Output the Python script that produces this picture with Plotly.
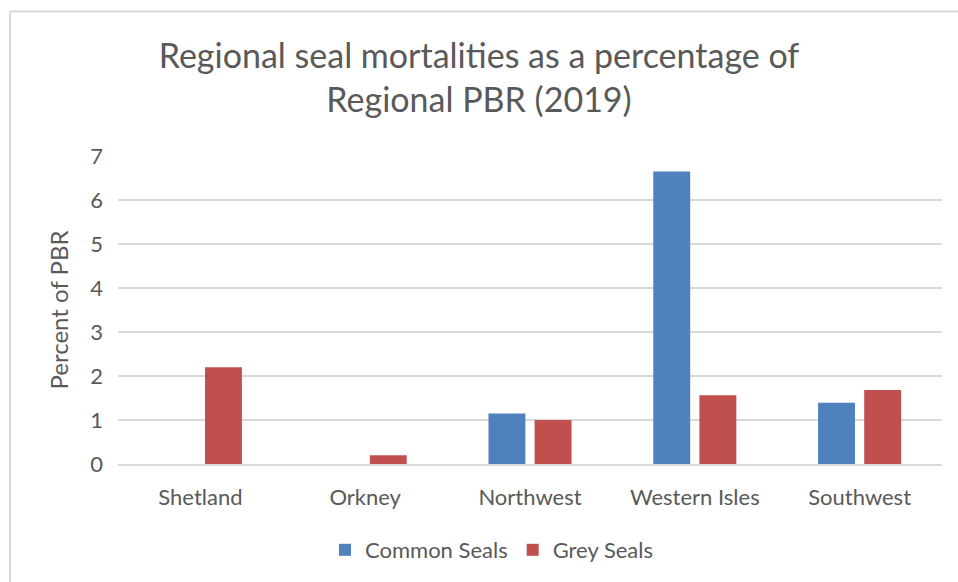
import plotly.graph_objects as go

regions = ["Shetland", "Orkney", "Northwest", "Western Isles", "Southwest"]
common_seals = [0, 0, 1.15, 6.65, 1.39]
grey_seals = [2.2, 0.2, 1.0, 1.56, 1.68]
y_ticks = [0, 1, 2, 3, 4, 5, 6, 7]

W, H = 958, 582
ML, MR, MT, MB = 118, 16, 156, 117
PW, PH = W - ML - MR, H - MT - MB

def px_x(px):
    return (px - ML) / PW

def px_y(py):
    return (H - MB - py) / PH

TEXT = "#595959"
FONT = "Lato"

fig = go.Figure()
fig.add_trace(go.Bar(
    x=regions, y=common_seals, name="Common Seals",
    marker=dict(color="#4F81BD", line=dict(width=0)),
))
fig.add_trace(go.Bar(
    x=regions, y=grey_seals, name="Grey Seals",
    marker=dict(color="#C0504D", line=dict(width=0)),
))

# chart frame (top and left edges)
frame = dict(type="line", xref="paper", yref="paper",
             line=dict(color="#D9D9D9", width=2), layer="below")
fig.add_shape(**frame, x0=px_x(10), x1=px_x(W + 5), y0=px_y(11), y1=px_y(11))
fig.add_shape(**frame, x0=px_x(10), x1=px_x(10), y0=px_y(11), y1=px_y(H + 5))

fig.update_layout(
    width=W, height=H,
    margin=dict(l=ML, r=MR, t=MT, b=MB),
    paper_bgcolor="white", plot_bgcolor="white",
    barmode="group", bargap=0.44, bargroupgap=0.2,
    font=dict(family=FONT, color=TEXT),
    title=dict(
        text="Regional seal mortalities as a percentage of<br>Regional PBR (2019)",
        x=0.5, xanchor="center", xref="container",
        y=1 - 68 / H, yanchor="middle",
        font=dict(family=FONT, size=34, color=TEXT, lineposition="none"),
    ),
    legend=dict(
        orientation="h", x=px_x(492), xanchor="center", xref="paper",
        y=px_y(550), yanchor="middle",
        font=dict(family=FONT, size=22, color=TEXT),
        itemwidth=30, traceorder="normal",
    ),
    showlegend=True,
)

fig.update_xaxes(
    showgrid=False, showline=True, linecolor="#D9D9D9", linewidth=2,
    ticks="", ticklabelstandoff=13,
    tickfont=dict(family=FONT, size=22, color=TEXT),
)
fig.update_yaxes(
    range=[0, 7], tickvals=y_ticks, showgrid=True, gridcolor="#D9D9D9",
    gridwidth=2, zeroline=False, showline=False, ticks="",
    ticklabelstandoff=14,
    tickfont=dict(family=FONT, size=22, color=TEXT),
    title=dict(text="Percent of PBR", standoff=14,
               font=dict(family=FONT, size=24, color=TEXT)),
)

fig.write_html("out.html")
